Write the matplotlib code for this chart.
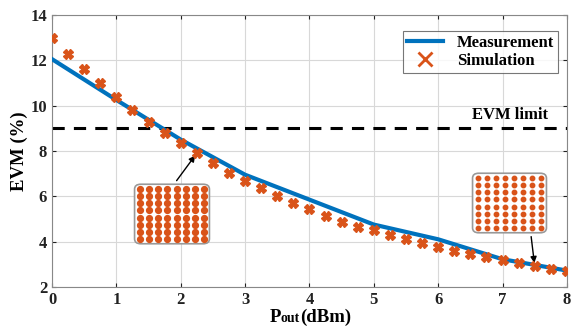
import numpy as np
import matplotlib
matplotlib.use('Agg')
import matplotlib.pyplot as plt
from matplotlib.patches import FancyBboxPatch

plt.rcParams['font.family'] = ['Liberation Serif', 'DejaVu Serif']
plt.rcParams['font.weight'] = 'bold'

# 测量数据
meas_x = [0, 1, 2, 3, 4, 5, 6, 7, 8]
meas_evm = [12.05, 10.25, 8.5, 6.95, 5.85, 4.75, 4.1, 3.22, 2.72]

# 仿真数据
sim_x = [0, 0.25, 0.5, 0.75, 1.0, 1.25, 1.5, 1.75, 2.0, 2.25, 2.5, 2.75,
         3.0, 3.25, 3.5, 3.75, 4.0, 4.25, 4.5, 4.75, 5.0, 5.25, 5.5, 5.75,
         6.0, 6.25, 6.5, 6.75, 7.0, 7.25, 7.5, 7.75, 8.0]
sim_evm = [12.97, 12.27, 11.62, 10.99, 10.37, 9.81, 9.29, 8.81, 8.34, 7.90,
           7.46, 7.04, 6.69, 6.38, 6.03, 5.72, 5.43, 5.15, 4.88, 4.66, 4.49,
           4.30, 4.11, 3.93, 3.75, 3.60, 3.46, 3.34, 3.19, 3.04, 2.93, 2.78,
           2.68]

evm_limit = 9
qam_levels = [-7, -5, -3, -1, 1, 3, 5, 7]

blue = '#0072BD'
orange = '#D95319'

fig = plt.figure(figsize=(5.72, 3.26), dpi=100)
ax = fig.add_axes([0.091, 0.120, 0.900, 0.834])

ax.plot(meas_x, meas_evm, color=blue, lw=3, label='Measurement', zorder=3)
ax.plot(sim_x, sim_evm, ls='none', marker='X', ms=6.5, color=orange,
        mec=orange, label='Simulation', zorder=4)
ax.axhline(evm_limit, color='black', ls=(0, (4, 3)), lw=2.2, zorder=2)
ax.text(7.70, 9.25, 'EVM limit', ha='right', va='bottom', fontsize=12,
        fontweight='bold')

ax.set_xlim(0, 8)
ax.set_ylim(2, 14)
ax.set_xticks(range(0, 9))
ax.set_yticks(range(2, 15, 2))
ax.grid(True, color='#d8d8d8', lw=0.8)
ax.set_axisbelow(True)
for s in ax.spines.values():
    s.set_color('#888888')
ax.tick_params(labelsize=12, colors='#222222', length=3, direction='in',
               top=True, right=True)
for lab in ax.get_xticklabels() + ax.get_yticklabels():
    lab.set_fontweight('bold')
ax.set_ylabel('EVM (%)', fontsize=13.5, fontweight='bold', labelpad=2)

# x轴标签: P + 小号 out 不下沉, 依次排列
renderer = fig.canvas.get_renderer()
x0 = 0.471
for part, size in [('P', 13.5), ('out', 10), ('(dBm)', 13.5)]:
    t = fig.text(x0, 0.012, part, fontsize=size, fontweight='bold',
                 ha='left', va='baseline')
    bb = t.get_window_extent(renderer)
    x0 += bb.width / fig.bbox.width

# 图例
leg = ax.legend(loc='upper right', fontsize=12, frameon=True, fancybox=False,
                edgecolor='#555555', borderpad=0.25, handlelength=2.2,
                labelspacing=0.1, borderaxespad=0.3,
                bbox_to_anchor=(0.993, 0.96))
leg.get_frame().set_linewidth(0.8)
leg.legend_handles[1].set_marker('x')
leg.legend_handles[1].set_markersize(10)
leg.legend_handles[1].set_markeredgewidth(2)


def constellation(rect, ms, marker):
    ins = fig.add_axes(rect)
    ins.set_xlim(-8.6, 8.6)
    ins.set_ylim(-8.6, 8.6)
    ins.axis('off')
    box = FancyBboxPatch((0.02, 0.02), 0.96, 0.96,
                         boxstyle='round,pad=0,rounding_size=0.08',
                         transform=ins.transAxes, fc='white',
                         ec='#999999', lw=1.2, clip_on=False)
    ins.add_patch(box)
    gx, gy = np.meshgrid(qam_levels, qam_levels)
    ins.plot(gx.ravel(), gy.ravel(), ls='none', marker=marker, ms=ms,
             color=orange, mec=orange)
    return ins


# 星座图 (像素 -> 图形坐标)
constellation([133 / 572, 1 - 245 / 326, 78 / 572, 62 / 326], 4.2, 'o')
constellation([471 / 572, 1 - 234 / 326, 77 / 572, 62 / 326], 3.2, 'o')

ax.annotate('', xy=(2.25, 7.9), xytext=(1.91, 6.59),
            arrowprops=dict(arrowstyle='-|>', color='black', lw=1,
                            mutation_scale=9))
ax.annotate('', xy=(7.5, 2.93), xytext=(7.44, 4.34),
            arrowprops=dict(arrowstyle='-|>', color='black', lw=1,
                            mutation_scale=9))

plt.savefig('out.png', dpi=100)
